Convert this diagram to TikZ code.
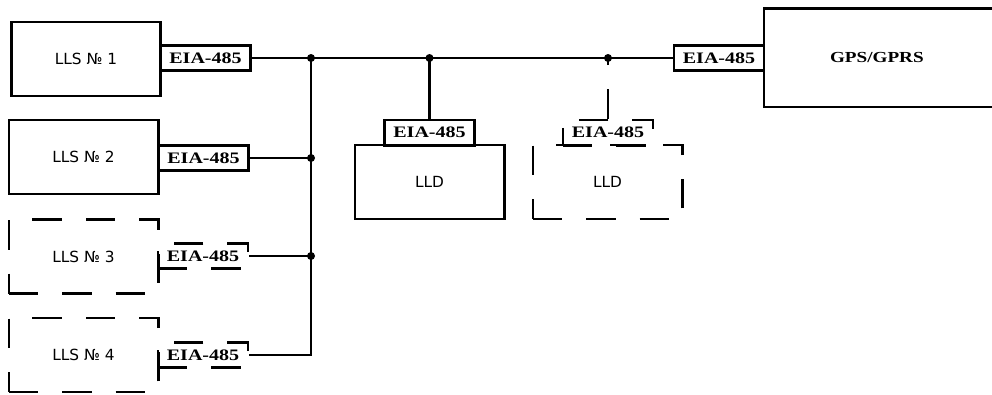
\documentclass[tikz,border=0pt]{standalone}
\usepackage{fontspec}
\setsansfont{DejaVu Sans}
\newfontfamily\eiafont[FakeStretch=1.25]{Liberation Serif}
\usetikzlibrary{positioning}

\begin{document}
\begin{tikzpicture}[x=0.75pt, y=-0.75pt,
  llsbox/.style={draw, line width=2pt, minimum width=112pt,
    minimum height=55.5pt, inner sep=0pt,
    font=\sffamily\fontsize{11.5}{13}\selectfont},
  portbox/.style={draw, line width=2pt, minimum width=67.5pt,
    minimum height=19pt, inner sep=0pt,
    font=\eiafont\bfseries\fontsize{12}{14}\selectfont},
  sparebox/.style={dash pattern=on 22pt off 18pt},
  busline/.style={line width=1.8pt},
  joint/.style={circle, fill, inner sep=0pt, minimum size=6pt}]

\useasboundingbox (0,0) rectangle (992,394);
\clip (0,0) rectangle (992,394);

% --- Level sensors (left) ---
\node[llsbox] (lls1) at (86, 59) {LLS № 1};
\node[portbox] (eia1) at (205.5, 58) {EIA-485};

\node[llsbox] (lls2) at (83.5, 157) {LLS № 2};
\node[portbox] (eia2) at (203.5, 158) {EIA-485};

\node[llsbox, sparebox] (lls3) at (83.5, 256.5) {LLS № 3};
\node[portbox, sparebox] (eia3) at (203, 256) {EIA-485};

\node[llsbox, sparebox] (lls4) at (83.5, 355) {LLS № 4};
\node[portbox, sparebox] (eia4) at (203, 355) {EIA-485};

% --- Displays (middle) ---
\node[llsbox] (lld1) at (429.5, 182) {LLD};
\node[portbox] (eialld1) at (429.5, 132.5) {EIA-485};

\node[llsbox, sparebox] (lld2) at (607.5, 182) {LLD};
\node[portbox, sparebox] (eialld2) at (608, 132.5) {EIA-485};

% --- Tracker (right), open to the page edge ---
\node[draw, line width=2pt, minimum width=187.5pt, minimum height=74pt,
  inner xsep=49.5pt, text width=88.5pt, align=left,
  font=\eiafont\bfseries\fontsize{11.5}{13}\selectfont]
  (gps) at (889, 57.5) {GPS/GPRS};
\node[portbox] (eiagps) at (719, 58) {EIA-485};

% Bus
\coordinate (vbus) at (311, 58);
\draw[busline] (eia1.east) -- (eiagps.west);
\draw[busline] (vbus) -- (vbus |- eia4.east) -- (eia4.east);
\draw[busline] (eia2.east) -- (vbus |- eia2.east);
\draw[busline] (eia3.east) -- (vbus |- eia3.east);
\draw[busline] (eialld1.north) -- (eialld1.north |- eia1.east);
\draw[busline, sparebox] (eialld2.north) -- (eialld2.north |- eia1.east);

% Junctions
\node[joint] (d1) at (vbus) {};
\node[joint] (d2) at (vbus |- eia2.east) {};
\node[joint] (d3) at (vbus |- eia3.east) {};
\node[joint] (d4) at (eialld1.north |- eia1.east) {};
\node[joint] (d5) at (eialld2.north |- eia1.east) {};

\end{tikzpicture}
\end{document}
